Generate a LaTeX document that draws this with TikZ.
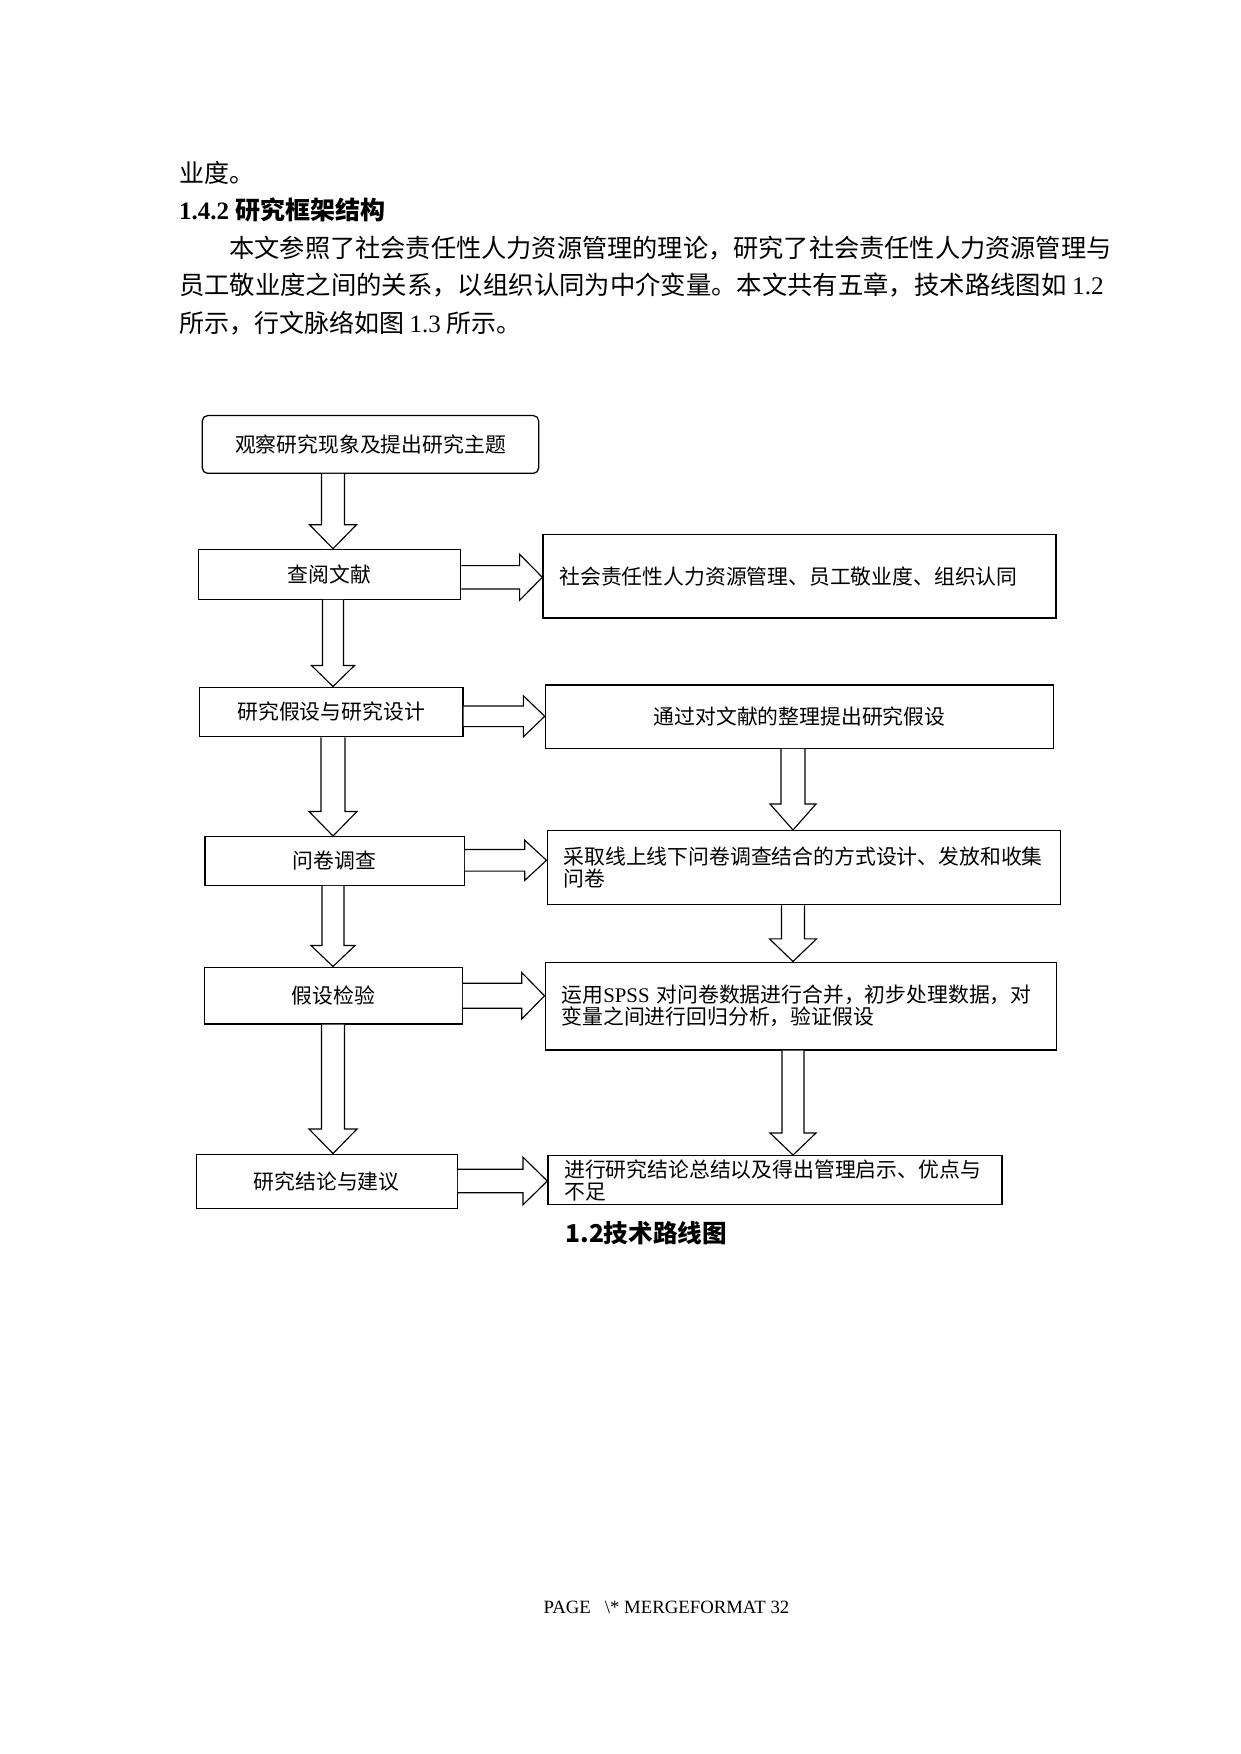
\documentclass[tikz,border=0pt]{standalone}
\usepackage{fontspec}
\setmainfont{Liberation Serif}
\newfontfamily\cjk{Noto Sans CJK SC}
\usetikzlibrary{calc}
\newcommand\px{0.48006pt}
% down block arrow: from, to, column coord, head length, shaft half width, head half width
\newcommand\darr[6]{%
  \coordinate (s) at (#1.south -| #3);
  \coordinate (t) at (#2.north -| #3);
  \draw[blk] ($(s)+(-#5,0)$) -- ($(t)+(-#5,-#4)$) -- ($(t)+(-#6,-#4)$) -- (t)
    -- ($(t)+(#6,-#4)$) -- ($(t)+(#5,-#4)$) -- ($(s)+(#5,0)$);
}
% right block arrow: from, to, y, head length, shaft half height, head half height
\newcommand\rarr[6]{%
  \coordinate (yy) at (0,#3);
  \coordinate (s) at (#1.east |- yy);
  \coordinate (t) at (#2.west |- yy);
  \draw[blk] ($(s)+(0,-#5)$) -- ($(t)+(-#4,-#5)$) -- ($(t)+(-#4,-#6)$) -- (t)
    -- ($(t)+(-#4,#6)$) -- ($(t)+(-#4,#5)$) -- ($(s)+(0,#5)$);
}
\tikzset{
  bx/.style={draw, line width=0.6pt, inner sep=0pt, anchor=north west,
    font=\cjk\fontsize{10}{10.6}\selectfont, align=center},
  rbx/.style={bx, align=left},
  blk/.style={draw, line width=0.55pt, fill=white, line join=miter},
  body/.style={anchor=west, inner sep=0pt, font=\cjk\fontsize{12}{12}\selectfont},
}
\begin{document}
\begin{tikzpicture}[x=0.48006pt, y=-0.48006pt]
\fill[white] (0,0) rectangle (1240,1754);
\useasboundingbox (0,0) rectangle (1240,1754);

% page text
\node[body] (p0) at (178.7,173) {业度。};
\node[body, font=\fontsize{12}{12}\selectfont\bfseries] (h1) at (178.7,210) {1.4.2 {\cjk 研究框架结构}};
\node[body, font=\cjk\fontsize{12.1}{12}\selectfont] (p1) at (229,248) {本文参照了社会责任性人力资源管理的理论，研究了社会责任性人力资源管理与};
\node[body, font=\cjk\fontsize{12.17}{12}\selectfont] (p2) at (178.7,285) {员工敬业度之间的关系，以组织认同为中介变量。本文共有五章，技术路线图如 {\rmfamily 1.2}};
\node[body] (p3) at (178.7,323) {所示，行文脉络如图 {\rmfamily 1.3} 所示。};

% column coordinates
\coordinate (LC) at (333,0);
\coordinate (RC) at (793,0);

% left column
\node[bx, rounded corners=2.5pt, minimum width=336.3*\px, minimum height=57.7*\px] (T) at (201.7,415) {观察研究现象及提出研究主题};
\node[bx, minimum width=262.5*\px, minimum height=50*\px] (B2) at (197.5,548.7) {查阅文献};
\node[bx, minimum width=263.5*\px, minimum height=49.5*\px] (B3) at (198.8,686.5) {研究假设与研究设计};
\node[bx, minimum width=259.2*\px, minimum height=48.5*\px] (B4) at (204.3,836) {问卷调查};
\node[bx, minimum width=257.3*\px, minimum height=56.8*\px] (B5) at (204.2,966.5) {假设检验};
\node[bx, minimum width=260.9*\px, minimum height=54.2*\px] (B6) at (195.6,1153.5) {研究结论与建议};

% right column
\node[rbx, text width=230.5pt, minimum width=513*\px, minimum height=83.3*\px] (R1) at (542.3,534) {社会责任性人力资源管理、员工敬业度、组织认同};
\node[bx, minimum width=508.5*\px, minimum height=63.4*\px] (R2) at (544.7,684.3) {通过对文献的整理提出研究假设};
\node[rbx, text width=230.4pt, minimum width=513*\px, minimum height=74*\px] (R3) at (546.5,830) {采取线上线下问卷调查结合的方式设计、发放和收集\\问卷};
\node[rbx, text width=229.5pt, minimum width=511*\px, minimum height=87.8*\px] (R4) at (544.5,961.5) {运用{\rmfamily SPSS} 对问卷数据进行合并，初步处理数据，对\\变量之间进行回归分析，验证假设};
\node[rbx, text width=202.2pt, minimum width=454*\px, minimum height=49*\px] (R5) at (547.3,1155) {进行研究结论总结以及得出管理启示、优点与\\不足};

% down arrows, left column
\darr{T}{B2}{LC}{24}{11.5}{23.5}
\darr{B2}{B3}{LC}{21}{10.5}{21.5}
\darr{B3}{B4}{LC}{24.5}{12}{24}
\darr{B4}{B5}{LC}{21}{11}{22}
\darr{B5}{B6}{LC}{24.5}{11.5}{24}

% down arrows, right column
\darr{R2}{R3}{RC}{26}{12}{23}
\darr{R3}{R4}{RC}{22.6}{11.5}{23.5}
\darr{R4}{R5}{RC}{22}{11}{23}

% right arrows
\rarr{B2}{R1}{577.3}{22.7}{11.7}{23}
\rarr{B3}{R2}{716.3}{21.3}{10.3}{20.5}
\rarr{B4}{R3}{860.3}{21.7}{10.8}{20}
\rarr{B5}{R4}{995.8}{22.7}{12.5}{23.2}
\rarr{B6}{R5}{1181}{24.3}{11.8}{23.8}

% caption and footer
\node[anchor=west, inner sep=0pt, font=\cjk\bfseries\fontsize{11.8}{12}\selectfont] (cap) at (565,1233) {1.2技术路线图};
\node[inner sep=0pt, font=\fontsize{9}{9}\selectfont] (ft) at (666.5,1607) {PAGE\ \ \ \textbackslash* MERGEFORMAT 32};
\end{tikzpicture}
\end{document}
